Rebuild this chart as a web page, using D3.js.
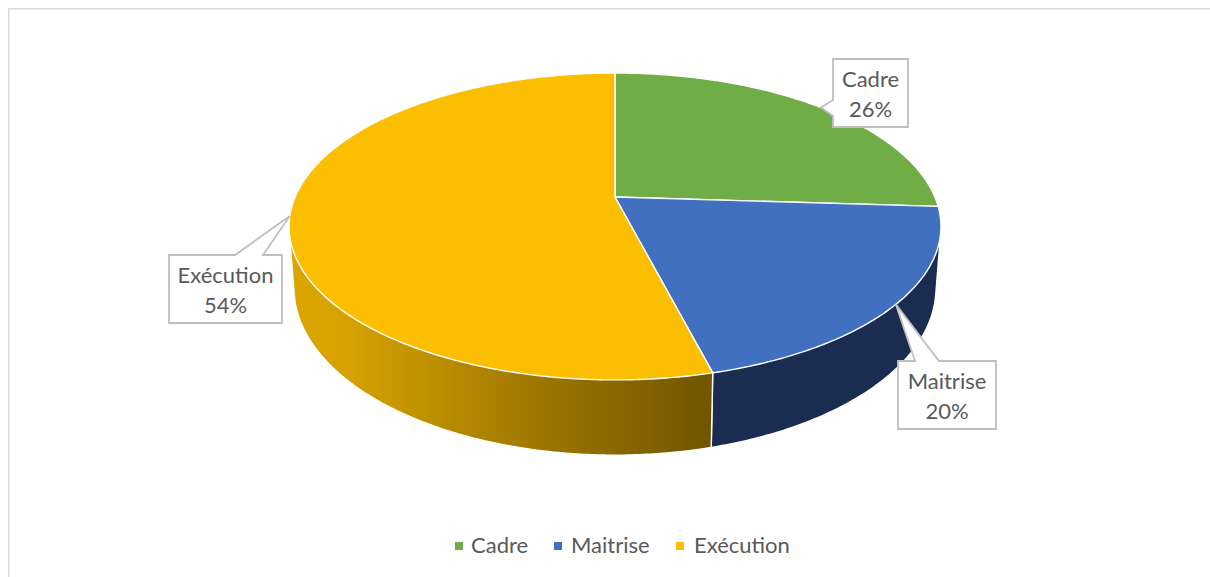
<!DOCTYPE html>
<html>
<head>
<meta charset="utf-8">
<script src="https://cdn.jsdelivr.net/npm/d3@7"></script>
<style>
  html, body { margin: 0; padding: 0; background: #fff; overflow: hidden; }
  svg { display: block; }
  text { font-family: Lato, "Open Sans", sans-serif; fill: #595959; }
</style>
</head>
<body>
<svg id="chart" width="1210" height="577"></svg>
<script>
// Workforce share by staff category
const categories = ["Cadre", "Maitrise", "Exécution"];
const shares = [26, 20, 54];
const faceColors = ["#70AD47", "#4270C0", "#FCBE00"];
const sideColors = ["#43682B", "#1A2D50", "url(#sideGold)"];

const svg = d3.select("#chart");

// Perspective projection of the disc: the far edge is foreshortened, the near edge enlarged.
const cx = 615, tilt = 0.192;
const topDisc = { xScale: 319.9, yScale: 147.8, y0: 197 };
const baseDisc = { xScale: 315, yScale: 160.9, y0: 256 };
function project(disc, angle) {
  const u = Math.sin(angle), v = -Math.cos(angle), w = 1 - tilt * v;
  return [cx + disc.xScale * u / w, disc.y0 + disc.yScale * v / w];
}
function arcPoints(disc, a0, a1) {
  const n = Math.max(2, Math.ceil((a1 - a0) / 0.01));
  return d3.range(n + 1).map(i => project(disc, a0 + (a1 - a0) * i / n));
}

const slices = d3.pie().sort(null).value(d => d)(shares);

// Horizontal shading along the near wall of the largest slice
const grad = svg.append("defs").append("linearGradient")
  .attr("id", "sideGold").attr("gradientUnits", "userSpaceOnUse")
  .attr("x1", 290).attr("x2", 714).attr("y1", 0).attr("y2", 0);
[[0, "#DCA600"], [0.14, "#D6A100"], [0.5, "#A87F00"], [1, "#705400"]].forEach(([o, c]) =>
  grad.append("stop").attr("offset", o).attr("stop-color", c));

// Side walls: hull of each slice's rim on the top and base discs; the top face hides what lies behind
const walls = slices.map((s, i) => {
  const pts = arcPoints(topDisc, s.startAngle, s.endAngle)
    .concat(arcPoints(baseDisc, s.startAngle, s.endAngle));
  return { i, hull: d3.polygonHull(pts) };
});
const faceLine = d3.line();
svg.append("g").selectAll("path")
  .data(walls.filter(w => slices[w.i].endAngle > Math.PI * 0.6))
  .join("path")
  .attr("d", w => faceLine(w.hull) + "Z")
  .attr("fill", w => sideColors[w.i])
  .attr("stroke", "#fff").attr("stroke-width", 1.4).attr("stroke-linejoin", "round");

// Top faces
svg.append("g").selectAll("path")
  .data(slices)
  .join("path")
  .attr("d", s => faceLine([[cx, topDisc.y0]].concat(arcPoints(topDisc, s.startAngle, s.endAngle))) + "Z")
  .attr("fill", (s, i) => faceColors[i])
  .attr("stroke", "#fff").attr("stroke-width", 1.4).attr("stroke-linejoin", "round");

// Callouts: boxes with a tail pointing at the rim at each slice's mid-angle
const boxes = [
  { x0: 833, x1: 908, y0: 59, y1: 127, tail: ["left", 100, 116] },
  { x0: 898, x1: 996, y0: 361, y1: 429, tail: ["top", 915, 939] },
  { x0: 169, x1: 282, y0: 255, y1: 323, tail: ["top", 235, 263] }
];
const callouts = svg.append("g");
slices.forEach((s, i) => {
  const b = boxes[i];
  const tip = project(topDisc, (s.startAngle + s.endAngle) / 2);
  const [edge, t0, t1] = b.tail;
  const outline = edge === "top"
    ? [[b.x0, b.y0], [t0, b.y0], tip, [t1, b.y0], [b.x1, b.y0], [b.x1, b.y1], [b.x0, b.y1]]
    : [[b.x0, b.y0], [b.x1, b.y0], [b.x1, b.y1], [b.x0, b.y1], [b.x0, t1], tip, [b.x0, t0]];
  callouts.append("path")
    .attr("d", faceLine(outline) + "Z")
    .attr("fill", "#fff").attr("stroke", "#BFBFBF").attr("stroke-width", 1.8);
  const mid = (b.x0 + b.x1) / 2;
  callouts.append("text").attr("x", mid).attr("y", b.y0 + 28)
    .attr("text-anchor", "middle").attr("font-size", 22).text(categories[i]);
  callouts.append("text").attr("x", mid).attr("y", b.y0 + 58)
    .attr("text-anchor", "middle").attr("font-size", 22).text(s.data + "%");
});

// Legend
const legendX = [{ mark: 455, text: 471 }, { mark: 554, text: 571 }, { mark: 676, text: 694 }];
const legend = svg.append("g");
categories.forEach((c, i) => {
  legend.append("rect").attr("x", legendX[i].mark).attr("y", 542)
    .attr("width", 8).attr("height", 8).attr("fill", faceColors[i]);
  legend.append("text").attr("x", legendX[i].text).attr("y", 553)
    .attr("font-size", 22).text(c);
});

// Chart area frame, visible along the top and left edges
svg.append("path").attr("d", "M8.8,577V8.8H1210")
  .attr("fill", "none").attr("stroke", "#D9D9D9").attr("stroke-width", 1.5);
</script>
</body>
</html>
